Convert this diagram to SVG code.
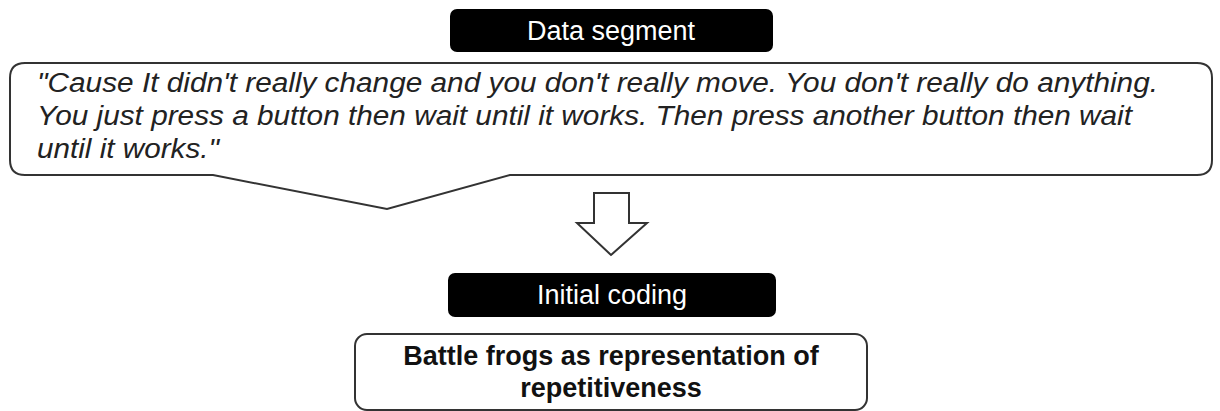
<svg xmlns="http://www.w3.org/2000/svg" width="1220" height="411" viewBox="0 0 1220 411">
<style>
.hdr{fill:#000;}
.hdrtxt{fill:#fff;font-family:"Liberation Sans",Arial,sans-serif;font-size:27px;text-anchor:middle;}
.outline{fill:#fff;stroke:#333;stroke-width:2;}
.quote{fill:#222;font-family:"Liberation Sans",Arial,sans-serif;font-size:27px;font-style:italic;}
.bold{fill:#111;font-family:"Liberation Sans",Arial,sans-serif;font-size:27px;font-weight:bold;text-anchor:middle;}
</style>
<rect width="1220" height="411" fill="#fff"/>
<g id="data-segment-label">
<rect class="hdr" x="450" y="9" width="323" height="43" rx="7"/>
<text class="hdrtxt" x="611" y="40">Data segment</text>
</g>
<g id="quote-callout">
<path class="outline" d="M 25,63 H 1197 Q 1212,63 1212,78 V 160 Q 1212,175 1197,175 H 510 L 387,209 L 213,175 H 25 Q 10,175 10,160 V 78 Q 10,63 25,63 Z"/>
<text class="quote" x="37" y="92" textLength="1121" lengthAdjust="spacingAndGlyphs">"Cause It didn't really change and you don't really move. You don't really do anything.</text>
<text class="quote" x="37" y="125" textLength="1095" lengthAdjust="spacingAndGlyphs">You just press a button then wait until it works. Then press another button then wait</text>
<text class="quote" x="37" y="158" textLength="182" lengthAdjust="spacingAndGlyphs">until it works."</text>
</g>
<g id="connectors">
<polygon class="outline" points="594,193 629,193 629,223 647,223 611,255 577,223 594,223"/>
</g>
<g id="initial-coding-label">
<rect class="hdr" x="448" y="273" width="328" height="44" rx="7"/>
<text class="hdrtxt" x="612" y="304">Initial coding</text>
</g>
<g id="code-box">
<rect class="outline" x="355" y="334" width="512" height="76" rx="12"/>
<text class="bold" x="611" y="365">Battle frogs as representation of</text>
<text class="bold" x="611" y="397">repetitiveness</text>
</g>
</svg>
